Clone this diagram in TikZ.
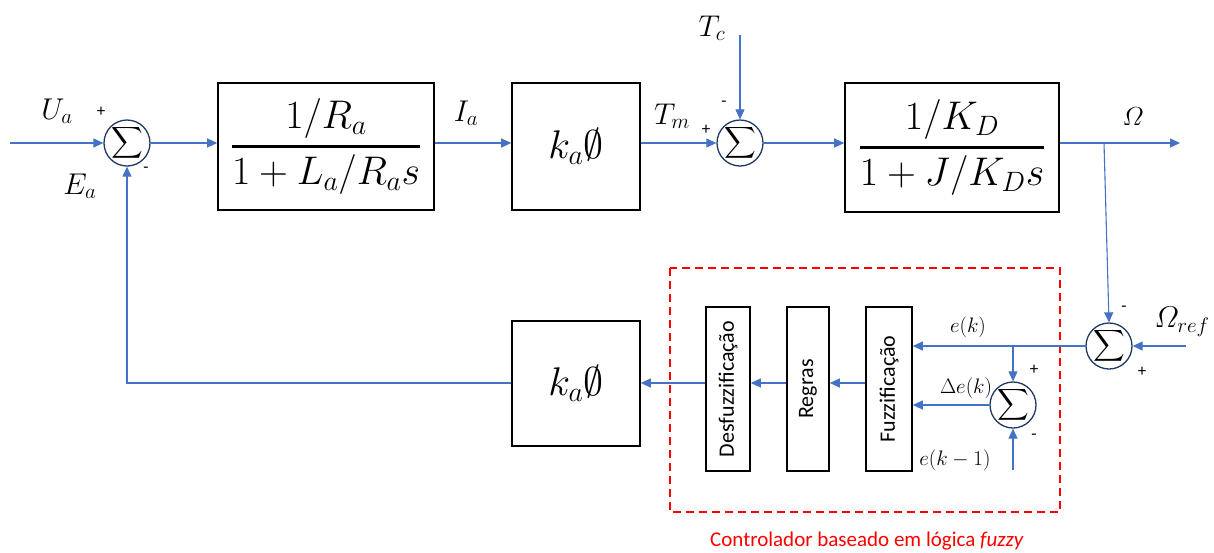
\RequirePackage{fix-cm}
\documentclass[tikz,border=0pt]{standalone}
\usepackage{amsmath,amssymb}
\usepackage{graphicx}
\usepackage{fontspec}
\setsansfont{Carlito}
\usetikzlibrary{arrows.meta}
\definecolor{flow}{HTML}{4472C4}
\definecolor{ring}{HTML}{1F3864}
\definecolor{ctrl}{HTML}{FF0000}
% transfer-function fraction with a heavier bar
\newcommand{\xferfrac}[2]{\genfrac{}{}{2.4pt}{0}{#1}{#2}}
\begin{document}
\begin{tikzpicture}[x=1pt,y=-1pt,
  blk/.style={draw=black,line width=1.6pt,inner sep=0pt,fill=white},
  bigmath/.style={font=\fontsize{40}{44}\selectfont},
  sumnode/.style={circle,draw=ring,line width=1.3pt,minimum size=46pt,inner sep=0pt,fill=white,
    label={[inner sep=0pt,font=\fontsize{22}{22}\selectfont]center:$\displaystyle\sum$}},
  stage/.style={blk,minimum height=164pt,font=\sffamily\fontsize{22}{24}\selectfont},
  arr/.style={draw=flow,line width=1.1pt,-{Triangle[length=10pt,width=9pt]}},
  sig/.style={font=\fontsize{30}{32}\selectfont,inner sep=0pt},
  small/.style={font=\fontsize{21}{22}\selectfont,inner sep=0pt},
  sgn/.style={font=\sffamily\fontsize{17}{17}\selectfont,inner sep=0pt}]
\useasboundingbox (0,0) rectangle (1214,552);

% controller frame
\draw[ctrl,line width=1.5pt,dash pattern=on 8pt off 5pt] (670,268) rectangle (1060,512);
\node[ctrl,font=\sffamily\fontsize{21}{22}\selectfont] (cap) at (867,541) {Controlador baseado em lógica \textit{fuzzy}};

% summing junctions
\node[sumnode] (s1) at (127,143) {};
\node[sumnode] (s2) at (740,143) {};
\node[sumnode] (s3) at (1109,346) {};
\node[sumnode] (s4) at (1013,405) {};

% forward path blocks
\node[blk,bigmath,minimum width=216pt,minimum height=127pt] (b1) at (326,146.5) {$\xferfrac{1/R_a}{1+L_a/R_a s}$};
\node[blk,bigmath,minimum width=128pt,minimum height=127pt] (b2) at (576,146.5) {$k_a\emptyset$};
\node[blk,bigmath,minimum width=214pt,minimum height=129pt] (b3) at (952,147.5) {$\xferfrac{1/K_D}{1+J/K_D s}$};
\node[blk,bigmath,minimum width=128pt,minimum height=125pt] (b4) at (576,383.5) {$k_a\emptyset$};

% fuzzy controller stages
\node[stage,minimum width=46pt] (fz) at (889,389) {\rotatebox{90}{Fuzzificação}};
\node[stage,minimum width=42pt] (rg) at (808,389) {\rotatebox{90}{Regras}};
\node[stage,minimum width=44pt] (df) at (728,389) {\rotatebox{90}{Desfuzzificação}};

% free ends and branch points
\coordinate (ua) at (10,143);
\coordinate (tc) at (740,35);
\coordinate (out) at (1180,143);
\coordinate (br) at (1104,143);
\coordinate (wref) at (1186,346);
\coordinate (br2) at (1013,346);
\coordinate (ek1) at (1013,470);
\coordinate (mid) at (0,383);

% connectors
\draw[arr] (ua) -- (s1.west);
\draw[arr] (s1.east) -- (b1.west |- s1);
\draw[arr] (b1.east |- s1) -- (b2.west |- s1);
\draw[arr] (b2.east |- s2) -- (s2.west);
\draw[arr] (tc) -- (s2.north);
\draw[arr] (s2.east) -- (b3.west |- s2);
\draw[arr] (b3.east |- s2) -- (out);
\draw[arr] (br) -- (s3.north);
\draw[arr] (wref) -- (s3.east);
\draw[arr] (s3.west) -- (fz.east |- s3);
\draw[arr] (br2) -- (s4.north);
\draw[arr] (s4.west) -- (fz.east |- s4);
\draw[arr] (ek1) -- (s4.south);
\draw[arr] (fz.west |- mid) -- (rg.east |- mid);
\draw[arr] (rg.west |- mid) -- (df.east |- mid);
\draw[arr] (df.west |- mid) -- (b4.east |- mid);
\draw[arr] (b4.west |- mid) -- (s1 |- mid) -- (s1.south);

% signal labels
\node[sig] (lua) at (57,111) {$U_a$};
\node[sig] (lea) at (80,186) {$E_a$};
\node[sig] (lia) at (466,113) {$I_a$};
\node[sig] (ltm) at (672,116) {$T_m$};
\node[sig] (ltc) at (712,28) {$T_c$};
\node[sig,font=\fontsize{26}{28}\selectfont] (lw) at (1133,117) {$\varOmega$};
\node[sig] (lwr) at (1182,322) {$\varOmega_{ref}$};
\node[small] (lek) at (968,327) {$e(k)$};
\node[small] (lde) at (966,388) {$\Delta e(k)$};
\node[small] (lek1) at (955,460) {$e(k-1)$};

% junction signs
\node[sgn] (p1) at (101,112) {+};
\node[sgn] (m1) at (146,170) {-};
\node[sgn] (p2) at (706,130) {+};
\node[sgn] (m2) at (724,104) {-};
\node[sgn] (m3) at (1124,309) {-};
\node[sgn] (p3) at (1142,372) {+};
\node[sgn] (p4) at (1034,370) {+};
\node[sgn] (m4) at (1034,437) {-};
\end{tikzpicture}
\end{document}
